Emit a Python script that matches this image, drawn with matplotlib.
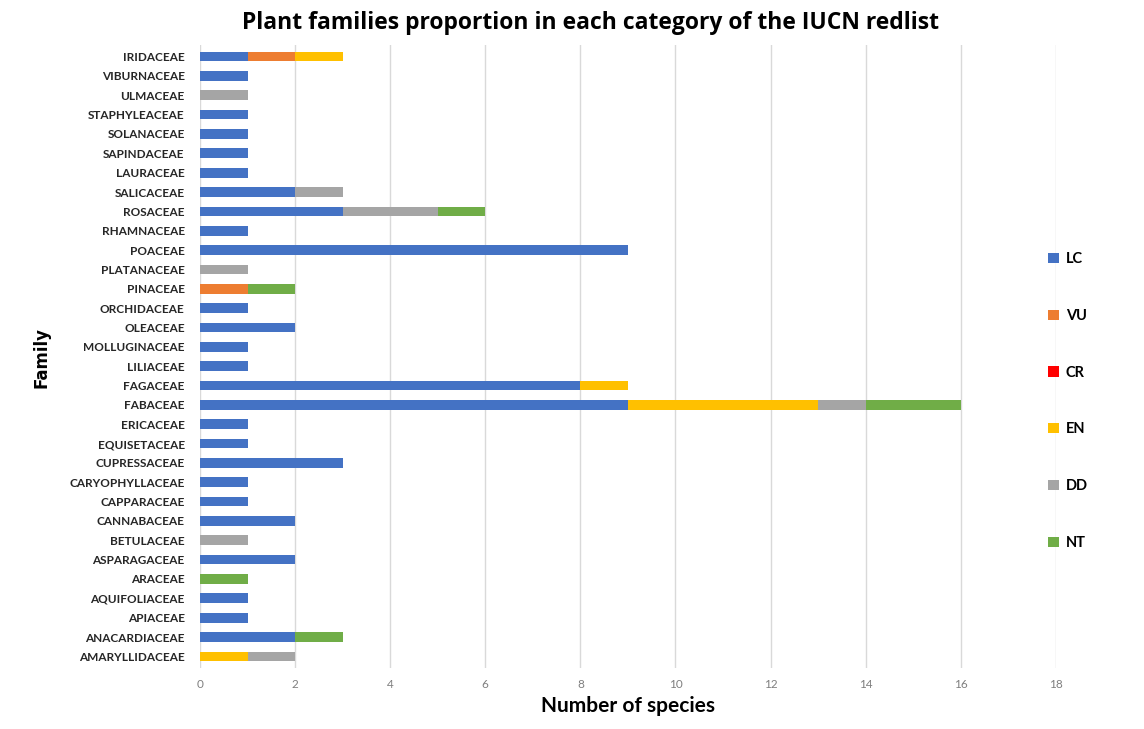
import matplotlib
matplotlib.use("Agg")
import matplotlib.pyplot as plt
import numpy as np

families = ["AMARYLLIDACEAE", "ANACARDIACEAE", "APIACEAE", "AQUIFOLIACEAE", "ARACEAE",
            "ASPARAGACEAE", "BETULACEAE", "CANNABACEAE", "CAPPARACEAE", "CARYOPHYLLACEAE",
            "CUPRESSACEAE", "EQUISETACEAE", "ERICACEAE", "FABACEAE", "FAGACEAE",
            "LILIACEAE", "MOLLUGINACEAE", "OLEACEAE", "ORCHIDACEAE", "PINACEAE",
            "PLATANACEAE", "POACEAE", "RHAMNACEAE", "ROSACEAE", "SALICACEAE",
            "LAURACEAE", "SAPINDACEAE", "SOLANACEAE", "STAPHYLEACEAE", "ULMACEAE",
            "VIBURNACEAE", "IRIDACEAE"]

LC = [0, 2, 1, 1, 0, 2, 0, 2, 1, 1, 3, 1, 1, 9, 8, 1, 1, 2, 1, 0, 0, 9, 1, 3, 2, 1, 1, 1, 1, 0, 1, 1]
VU = [0, 0, 0, 0, 0, 0, 0, 0, 0, 0, 0, 0, 0, 0, 0, 0, 0, 0, 0, 1, 0, 0, 0, 0, 0, 0, 0, 0, 0, 0, 0, 1]
CR = [0] * 32
EN = [1, 0, 0, 0, 0, 0, 0, 0, 0, 0, 0, 0, 0, 4, 1, 0, 0, 0, 0, 0, 0, 0, 0, 0, 0, 0, 0, 0, 0, 0, 0, 1]
DD = [1, 0, 0, 0, 0, 0, 1, 0, 0, 0, 0, 0, 0, 1, 0, 0, 0, 0, 0, 0, 1, 0, 0, 2, 1, 0, 0, 0, 0, 1, 0, 0]
NT = [0, 1, 0, 0, 1, 0, 0, 0, 0, 0, 0, 0, 0, 2, 0, 0, 0, 0, 0, 1, 0, 0, 0, 1, 0, 0, 0, 0, 0, 0, 0, 0]

categories = ["LC", "VU", "CR", "EN", "DD", "NT"]
series = [LC, VU, CR, EN, DD, NT]
colors = ["#4472C4", "#ED7D31", "#FF0000", "#FFC000", "#A5A5A5", "#70AD47"]
xticks = [0, 2, 4, 6, 8, 10, 12, 14, 16, 18]

fig = plt.figure(figsize=(11.44, 7.29), dpi=100)
ax = fig.add_axes([0.1748, 0.0837, 0.7482, 0.8546])

y = np.arange(len(families))
left = np.zeros(len(families))
handles = []
for name, vals, col in zip(categories, series, colors):
    v = np.array(vals, dtype=float)
    h = ax.barh(y, v, left=left, height=0.5, color=col, label=name, zorder=3)
    handles.append(h)
    left += v

ax.set_xlim(0, 18)
ax.set_ylim(-0.6, 31.6)
ax.set_xticks(xticks)
ax.set_xticklabels([str(t) for t in xticks], fontsize=8.5, color="#7F7F7F", family="Lato")
ax.set_yticks(y)
ax.set_yticklabels(families, fontsize=8.5, fontweight="bold", family="Lato", color="#262626")
ax.tick_params(axis="both", length=0)
ax.tick_params(axis="x", pad=8)
ax.tick_params(axis="y", pad=11)
ax.grid(axis="x", color="#D9D9D9", linewidth=1, zorder=0)
for s in ax.spines.values():
    s.set_visible(False)

ax.set_xlabel("Number of species", fontsize=15, fontweight="bold", family="Lato", labelpad=4)
fig.text(0.036, 0.51, "Family", rotation=90, fontsize=12, fontweight="bold",
         family="Liberation Sans Narrow", va="center", ha="center")
fig.text(0.516, 0.968, "Plant families proportion in each category of the IUCN redlist",
         fontsize=16.5, fontweight="bold", family="Open Sans", ha="center", va="center")

fig.legend(handles=handles, labels=categories, loc="upper left",
           bbox_to_anchor=(0.905, 0.672), frameon=False, labelspacing=2.93,
           handlelength=0.7, handleheight=0.7, handletextpad=0.5,
           prop={"family": "Lato", "weight": "bold", "size": 10.5})

fig.savefig("out.png", dpi=100)
